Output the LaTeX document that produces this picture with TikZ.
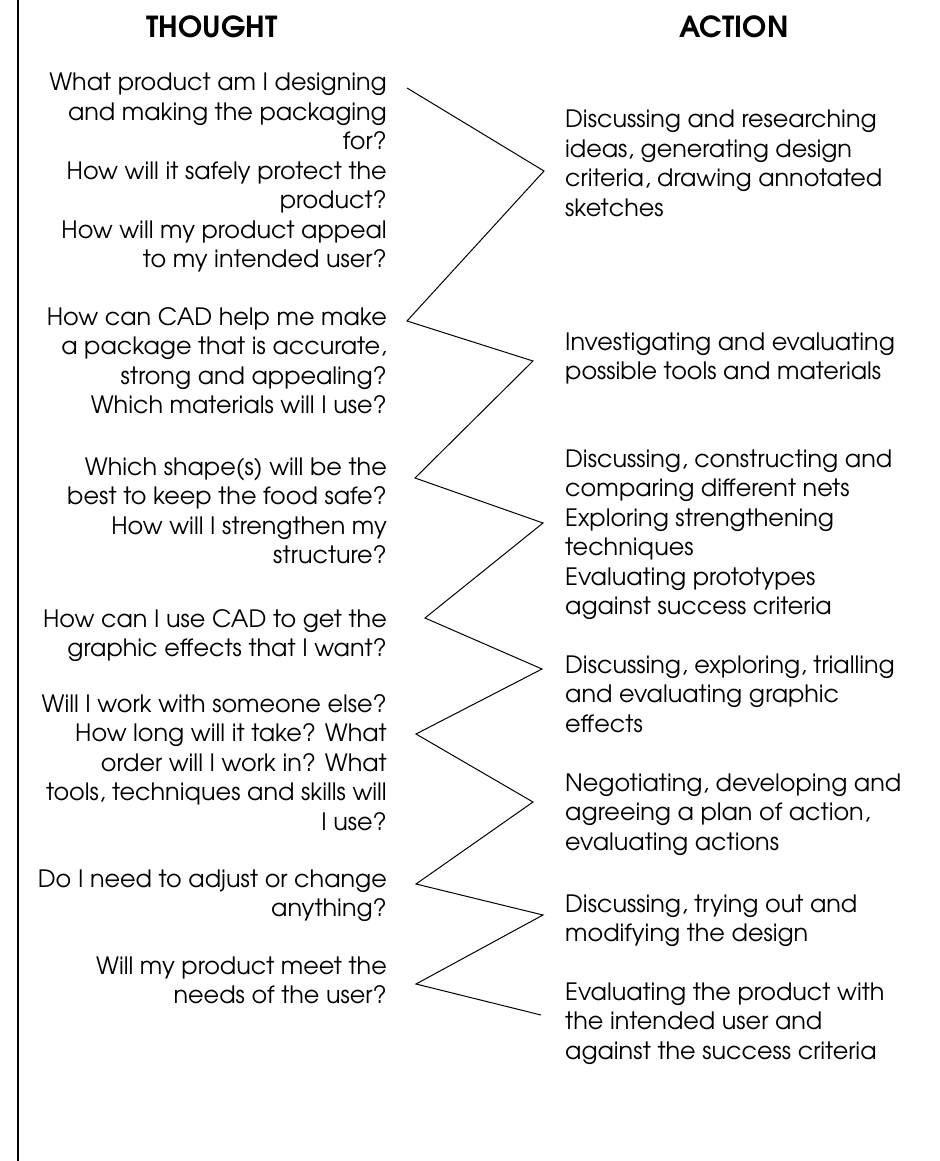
\documentclass[tikz,border=0pt]{standalone}
\usepackage{fontspec}
\setmainfont{texgyreadventor}[Extension=.otf, UprightFont=*-regular, BoldFont=*-bold]
\usepackage{tikz}
\tikzset{
    domanda/.style = {anchor = base east, inner sep = 0pt, font = \fontsize{23.9}{29.5}\selectfont},
    azione/.style = {anchor = base west, inner sep = 0pt, font = \fontsize{23.9}{29.5}\selectfont},
    titolo/.style = {anchor = base, inner sep = 0pt, font = \bfseries\fontsize{29}{30}\selectfont}
}
\newcommand{\colonnaDx}[1]{\begin{tabular}[t]{@{}r@{}}#1\end{tabular}}
\newcommand{\colonnaSx}[1]{\begin{tabular}[t]{@{}l@{}}#1\end{tabular}}

\begin{document}
\begin{tikzpicture}[x = 1pt, y = -1pt]
    % Variabili
    \pgfmathsetmacro{\xsx}{387}
    \pgfmathsetmacro{\xdx}{565}
    \useasboundingbox (0,0) rectangle (939,1161);
    % bordo a sinistra
    \draw[line width = 1.5pt] (18,0) -- (18,1161);
    % Titoli
    \node[titolo] (pensiero) at (212,38){THOUGHT};
    \node[titolo] (azione) at (734,38){ACTION};
    % Domande
    \node[domanda] (t1) at (\xsx,91){\colonnaDx{What product am I designing\\ and making the packaging\\ for?\\ How will it safely protect the\\ product?\\ How will my product appeal\\ to my intended user?}};
    \node[domanda] (t2) at (\xsx,325){\colonnaDx{How can CAD help me make\\ a package that is accurate,\\ strong and appealing?\\ Which materials will I use?}};
    \node[domanda] (t3) at (\xsx,475){\colonnaDx{Which shape(s) will be the\\ best to keep the food safe?\\ How will I strengthen my\\ structure?}};
    \node[domanda] (t4) at (\xsx,627){\colonnaDx{How can I use CAD to get the\\ graphic effects that I want?}};
    \node[domanda] (t5) at (\xsx,712){\colonnaDx{Will I work with someone else?\\ How long will it take? What\\ order will I work in? What\\ tools, techniques and skills will\\ I use?}};
    \node[domanda] (t6) at (\xsx,887){\colonnaDx{Do I need to adjust or change\\ anything?}};
    \node[domanda] (t7) at (\xsx,974){\colonnaDx{Will my product meet the\\ needs of the user?}};
    % Azioni
    \node[azione] (a1) at (\xdx,128){\colonnaSx{Discussing and researching\\ ideas, generating design\\ criteria, drawing annotated\\ sketches}};
    \node[azione] (a2) at (\xdx,350){\colonnaSx{Investigating and evaluating\\ possible tools and materials}};
    \node[azione] (a3) at (\xdx,467){\colonnaSx{Discussing, constructing and\\ comparing different nets\\ Exploring strengthening\\ techniques\\ Evaluating prototypes\\ against success criteria}};
    \node[azione] (a4) at (\xdx,673){\colonnaSx{Discussing, exploring, trialling\\ and evaluating graphic\\ effects}};
    \node[azione] (a5) at (\xdx,791){\colonnaSx{Negotiating, developing and\\ agreeing a plan of action,\\ evaluating actions}};
    \node[azione] (a6) at (\xdx,912){\colonnaSx{Discussing, trying out and\\ modifying the design}};
    \node[azione] (a7) at (\xdx,1000){\colonnaSx{Evaluating the product with\\ the intended user and\\ against the success criteria}};
    % Zig zag
    \coordinate (z0) at (407,88);
    \coordinate (z1) at (544,171);
    \coordinate (z2) at (407,321);
    \coordinate (z3) at (533,361);
    \coordinate (z4) at (415,478);
    \coordinate (z5) at (543,523);
    \coordinate (z6) at (425,618);
    \coordinate (z7) at (542,669);
    \coordinate (z8) at (416,734);
    \coordinate (z9) at (533,802);
    \coordinate (z10) at (416,884);
    \coordinate (z11) at (543,915);
    \coordinate (z12) at (416,984);
    \coordinate (z13) at (541,1015);
    \draw[line width = 1pt, line join = miter] (z0) -- (z1) -- (z2) -- (z3) -- (z4) -- (z5) -- (z6) -- (z7) -- (z8) -- (z9) -- (z10) -- (z11) -- (z12) -- (z13);
\end{tikzpicture}
\end{document}
